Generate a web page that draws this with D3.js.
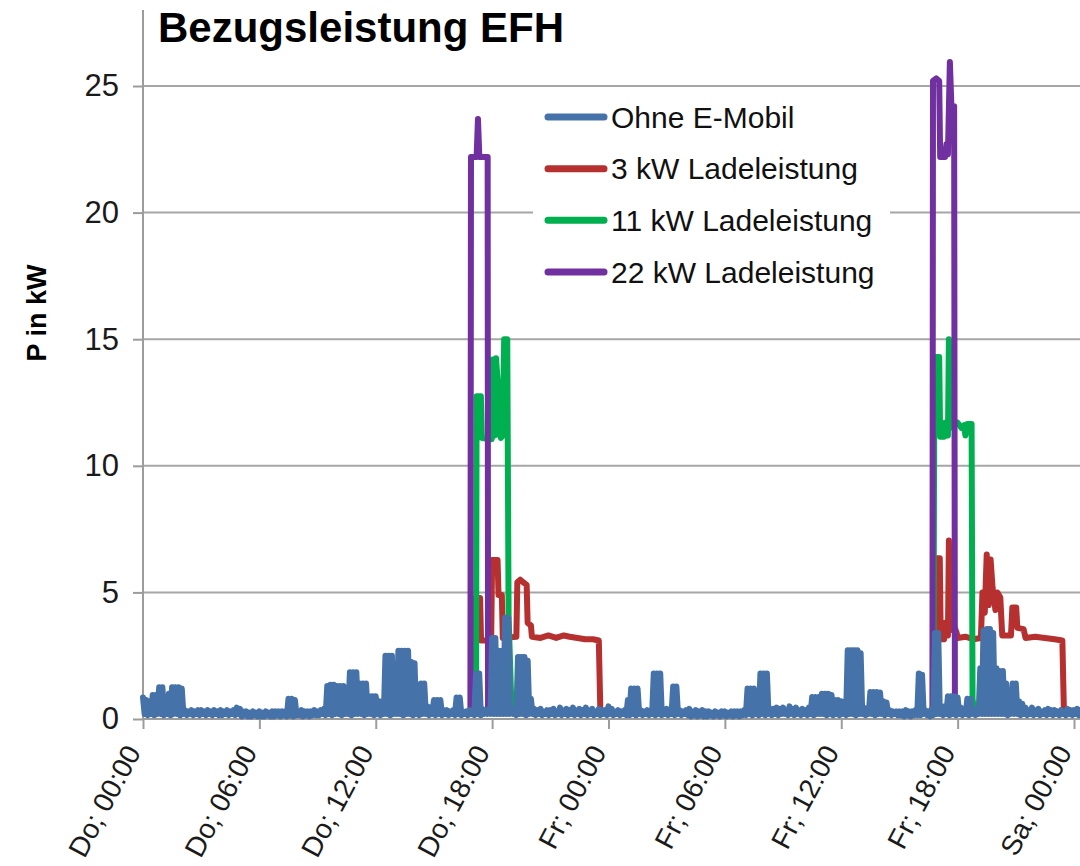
<!DOCTYPE html>
<html><head><meta charset="utf-8">
<script src="https://cdn.jsdelivr.net/npm/d3@7/dist/d3.min.js"></script>
<style>
body{margin:0;background:#fff}
svg{display:block}
text{font-family:"Liberation Sans",Arial,sans-serif}
</style>
</head><body>
<svg id="chart" width="1080" height="866"></svg>
<script>
// ---------- data ----------
const chartTitle = "Bezugsleistung EFH";
const yAxisTitle = "P in kW";
const seriesNames = ["Ohne E-Mobil", "3 kW Ladeleistung", "11 kW Ladeleistung", "22 kW Ladeleistung"];
const seriesColors = ["#4672AA", "#B5302E", "#00B050", "#7030A0"];
const xTickHours = [0, 6, 12, 18, 24, 30, 36, 42, 48];
const xTickLabels = ["Do; 00:00", "Do; 06:00", "Do; 12:00", "Do; 18:00", "Fr; 00:00", "Fr; 06:00", "Fr; 12:00", "Fr; 18:00", "Sa; 00:00"];
const yTicks = [0, 5, 10, 15, 20, 25];

// Ohne E-Mobil: peak and minimum (kW) within each 10-minute interval from Do 00:00 (6 per hour)
const sampleMinutes = 10;
const ohneEMobilMax = [
  0.85,0.75,0.7,0.95,0.95,1.25,   // 0
  1.25,0.35,1.0,1.25,1.25,1.25,   // 1
  1.2,0.35,0.3,0.35,0.3,0.35,     // 2
  0.35,0.3,0.35,0.3,0.35,0.3,     // 3
  0.35,0.3,0.35,0.3,0.35,0.45,    // 4
  0.4,0.3,0.3,0.25,0.3,0.25,      // 5
  0.3,0.25,0.3,0.25,0.3,0.3,      // 6
  0.3,0.3,0.3,0.8,0.8,0.75,       // 7
  0.3,0.35,0.3,0.3,0.3,0.35,      // 8
  0.3,0.35,0.4,1.3,1.35,1.35,     // 9
  1.3,1.3,1.3,0.6,1.85,1.85,      // 10
  1.85,1.4,1.4,1.4,0.9,0.9,       // 11
  0.9,0.7,0.7,2.5,2.5,2.5,        // 12
  1.9,2.7,2.7,2.7,2.7,2.25,       // 13
  2.2,0.8,1.4,1.4,0.5,0.45,       // 14
  0.75,0.75,0.75,0.35,0.35,0.3,   // 15
  0.35,0.85,0.85,0.3,0.3,0.35,    // 16
  0.35,1.8,1.8,0.4,0.35,0.4,      // 17
  3.2,3.2,2.7,2.7,4.0,4.0,        // 18
  0.4,0.4,2.45,2.45,2.45,2.3,     // 19
  0.8,0.4,0.35,0.4,0.3,0.35,      // 20
  0.35,0.4,0.3,0.45,0.35,0.4,     // 21
  0.35,0.45,0.35,0.4,0.35,0.45,   // 22
  0.35,0.4,0.3,0.4,0.35,0.35,     // 23
  0.5,0.4,0.3,0.35,0.3,0.35,      // 24
  0.75,1.2,1.2,1.2,0.35,0.3,      // 25
  0.35,0.3,1.8,1.8,1.8,0.35,      // 26
  0.4,0.35,1.28,1.28,0.35,0.3,    // 27
  0.35,0.4,0.3,0.35,0.3,0.35,     // 28
  0.3,0.3,0.25,0.3,0.25,0.3,      // 29
  0.3,0.25,0.3,0.3,0.3,0.3,       // 30
  0.35,1.2,1.2,1.2,1.1,1.8,       // 31
  1.8,1.8,0.4,0.4,0.45,0.4,       // 32
  0.45,0.35,0.5,0.4,0.45,0.35,    // 33
  0.4,0.35,0.45,0.87,0.87,0.87,   // 34
  1.0,1.0,1.0,0.95,0.75,0.75,     // 35
  0.7,0.35,2.72,2.72,2.72,2.72,   // 36
  2.6,0.45,0.4,1.07,1.07,1.07,    // 37
  1.05,0.7,0.65,0.35,0.3,0.3,     // 38
  0.3,0.3,0.35,0.3,0.3,0.35,      // 39
  1.8,1.75,0.35,0.3,0.4,3.4,      // 40
  3.4,0.45,0.5,0.9,0.9,0.9,       // 41
  0.85,0.45,0.35,0.8,0.8,0.35,    // 42
  0.4,2.0,3.5,3.55,3.55,3.4,      // 43
  2.0,1.9,1.9,1.4,0.5,1.4,        // 44
  1.4,0.7,0.6,0.45,0.35,0.45,     // 45
  0.35,0.4,0.3,0.35,0.4,0.35,     // 46
  0.35,0.3,0.35,0.3,0.4,0.35,     // 47
  0.35,0.4,0.35                   // 48
];
const ohneEMobilMin = [
  0.2,0.15,0.2,0.15,0.2,0.2,      // 0
  0.15,0.2,0.15,0.2,0.2,0.15,     // 1
  0.2,0.15,0.2,0.15,0.2,0.15,     // 2
  0.2,0.15,0.2,0.15,0.2,0.15,     // 3
  0.15,0.2,0.15,0.2,0.15,0.2,     // 4
  0.1,0.15,0.1,0.1,0.15,0.1,      // 5
  0.1,0.1,0.15,0.1,0.1,0.15,      // 6
  0.1,0.15,0.1,0.15,0.1,0.15,     // 7
  0.15,0.1,0.15,0.1,0.15,0.15,    // 8
  0.15,0.2,0.15,0.2,0.15,0.2,     // 9
  0.2,0.15,0.2,0.2,0.15,0.2,      // 10
  0.2,0.2,0.15,0.2,0.2,0.15,      // 11
  0.2,0.15,0.2,0.2,0.15,0.2,      // 12
  0.2,0.2,0.15,0.2,0.2,0.15,      // 13
  0.2,0.15,0.2,0.2,0.15,0.2,      // 14
  0.15,0.2,0.15,0.2,0.15,0.2,     // 15
  0.15,0.2,0.15,0.2,0.15,0.2,     // 16
  0.15,0.2,0.15,0.2,0.2,0.2,      // 17
  0.2,0.2,0.2,0.2,0.2,0.2,        // 18
  0.2,0.15,0.2,0.2,0.15,0.2,      // 19
  0.2,0.15,0.2,0.15,0.2,0.15,     // 20
  0.2,0.15,0.2,0.15,0.2,0.15,     // 21
  0.2,0.15,0.2,0.15,0.2,0.15,     // 22
  0.2,0.15,0.2,0.15,0.2,0.15,     // 23
  0.2,0.15,0.2,0.15,0.2,0.15,     // 24
  0.15,0.2,0.15,0.2,0.15,0.2,     // 25
  0.15,0.2,0.15,0.2,0.15,0.2,     // 26
  0.15,0.2,0.15,0.2,0.15,0.2,     // 27
  0.15,0.1,0.15,0.1,0.15,0.1,     // 28
  0.1,0.15,0.1,0.15,0.1,0.15,     // 29
  0.1,0.15,0.1,0.15,0.1,0.15,     // 30
  0.15,0.2,0.15,0.2,0.15,0.2,     // 31
  0.15,0.2,0.15,0.2,0.15,0.2,     // 32
  0.2,0.15,0.2,0.15,0.2,0.15,     // 33
  0.2,0.15,0.2,0.15,0.2,0.2,      // 34
  0.2,0.15,0.2,0.15,0.2,0.15,     // 35
  0.2,0.15,0.2,0.2,0.15,0.2,      // 36
  0.2,0.15,0.2,0.2,0.15,0.2,      // 37
  0.2,0.15,0.2,0.15,0.2,0.15,     // 38
  0.15,0.1,0.15,0.1,0.15,0.15,    // 39
  0.15,0.2,0.15,0.1,0.15,0.2,     // 40
  0.2,0.15,0.2,0.15,0.2,0.15,     // 41
  0.2,0.15,0.2,0.15,0.2,0.15,     // 42
  0.2,0.2,0.2,0.2,0.2,0.2,        // 43
  0.2,0.2,0.2,0.15,0.2,0.2,       // 44
  0.2,0.15,0.2,0.15,0.2,0.15,     // 45
  0.2,0.15,0.2,0.15,0.2,0.15,     // 46
  0.2,0.15,0.2,0.15,0.2,0.15,     // 47
  0.2,0.15,0.2                    // 48
];

// charging series: [hour, kW] only where they differ from "Ohne E-Mobil"
const ladung3kW = [
  [17.07,0.3],[17.12,4.78],[17.38,4.78],[17.43,3.1],[17.95,3.1],[18.0,6.28],[18.28,6.28],[18.33,4.9],
  [18.5,4.9],[18.55,3.2],[19.25,3.25],[19.3,5.4],[19.45,5.5],[19.6,5.4],[19.78,5.3],[19.83,3.8],
  [20.0,3.7],[20.05,3.25],[20.5,3.2],[20.9,3.3],[21.3,3.2],[21.7,3.3],[22.0,3.25],[22.4,3.2],
  [22.8,3.15],[23.2,3.15],[23.5,3.1],[23.58,0.3],
  null,
  [40.8,0.4],[40.85,6.35],[41.08,6.35],[41.13,3.15],[41.3,3.15],[41.35,3.8],[41.45,3.8],[41.5,3.3],
  [41.55,7.05],[41.62,3.5],[41.8,3.7],[41.95,3.4],[42.0,3.2],[42.4,3.25],[42.8,3.15],[43.2,3.2],
  [43.28,5.0],[43.4,4.2],[43.5,6.5],[43.6,4.5],[43.7,6.3],[43.8,5.2],[43.95,4.3],[44.05,5.0],
  [44.2,4.8],[44.3,3.3],[44.75,3.3],[44.82,4.4],[45.02,4.4],[45.08,3.6],[45.4,3.55],[45.5,3.2],
  [46.0,3.25],[46.5,3.2],[47.0,3.15],[47.4,3.1],[47.48,0.3]
];
const ladung11kW = [
  [17.17,0.3],[17.2,12.75],[17.42,12.75],[17.47,11.1],[17.98,11.05],[18.03,14.2],[18.12,11.2],
  [18.2,14.25],[18.28,13.4],[18.35,11.3],[18.45,11.1],[18.55,11.2],[18.62,15.0],[18.78,15.0],
  [18.85,4.0],[19.0,0.4],
  null,
  [40.75,0.4],[40.8,14.3],[41.05,14.3],[41.1,11.15],[41.3,11.15],[41.35,11.7],[41.45,11.7],
  [41.5,11.2],[41.55,15.0],[41.62,11.5],[41.8,11.6],[42.0,11.7],[42.2,11.5],[42.33,11.6],
  [42.4,11.2],[42.5,11.65],[42.72,11.65],[42.77,0.8],[42.85,0.3]
];
const ladung22kW = [
  [16.88,0.3],[16.91,22.2],[17.2,22.2],[17.27,23.7],[17.34,22.2],[17.77,22.2],[17.79,0.4],
  null,
  [40.7,0.4],[40.73,25.2],[40.9,25.3],[41.05,25.2],[41.1,22.2],[41.35,22.2],[41.42,22.7],
  [41.5,22.3],[41.6,25.95],[41.68,24.2],[41.82,24.2],[41.86,0.5]
];

// ---------- chart ----------
const svg = d3.select("#chart");
svg.append("rect").attr("width",1080).attr("height",866).attr("fill","#fff");

const x = d3.scaleLinear().domain([0, 48]).range([143, 1074]);
const y = d3.scaleLinear().domain([0, 25]).range([719, 86]);
const yTop = y(28);

const gridColor = "#A6A6A6";
const axisColor = "#9C9C9C";

// gridlines
svg.append("g").selectAll("line").data(yTicks.filter(d => d > 0)).join("line")
  .attr("x1", x(0)).attr("x2", 1080)
  .attr("y1", d => y(d)).attr("y2", d => y(d))
  .attr("stroke", gridColor).attr("stroke-width", 2);

// y axis
const yAxis = d3.axisLeft(y).tickValues(yTicks).tickSize(10).tickPadding(14);
const gy = svg.append("g").attr("transform", `translate(${x(0)},0)`).call(yAxis);
gy.select(".domain").remove();
gy.selectAll(".tick line").attr("stroke", axisColor).attr("stroke-width", 2);
gy.selectAll(".tick text").attr("font-size", 31).attr("fill", "#1a1a1a")
  .attr("font-family", '"Liberation Sans",Arial,sans-serif');
svg.append("line").attr("x1", x(0)).attr("x2", x(0)).attr("y1", yTop).attr("y2", y(0) + 1)
  .attr("stroke", axisColor).attr("stroke-width", 2);

// x axis
const xAxis = d3.axisBottom(x).tickValues(xTickHours).tickSize(10).tickFormat((d, i) => xTickLabels[i]);
const gx = svg.append("g").attr("transform", `translate(0,${y(0)})`).call(xAxis);
gx.select(".domain").remove();
gx.selectAll(".tick line").attr("stroke", axisColor).attr("stroke-width", 2);
gx.selectAll(".tick text")
  .attr("font-size", 28).attr("fill", "#1a1a1a")
  .attr("font-family", '"Liberation Sans",Arial,sans-serif')
  .attr("text-anchor", "end").attr("dy", null).attr("y", 0)
  .attr("transform", "translate(-2,33) rotate(-62)");
svg.append("line").attr("x1", x(0)).attr("x2", 1080).attr("y1", y(0)).attr("y2", y(0))
  .attr("stroke", axisColor).attr("stroke-width", 2);

// series: Ohne E-Mobil drawn through the peak and the minimum of every interval
const bluePoints = [];
ohneEMobilMax.forEach((v, i) => {
  bluePoints.push([i * sampleMinutes / 60, v]);
  bluePoints.push([(i + 0.5) * sampleMinutes / 60, ohneEMobilMin[i]]);
});
const line = d3.line().defined(d => d !== null).x(d => x(d[0])).y(d => y(d[1]));
const drawOrder = [
  {data: ladung3kW, color: seriesColors[1]},
  {data: ladung11kW, color: seriesColors[2]},
  {data: ladung22kW, color: seriesColors[3]},
  {data: bluePoints, color: seriesColors[0]}
];
const plot = svg.append("g");
drawOrder.forEach(s => {
  plot.append("path").attr("d", line(s.data)).attr("fill", "none")
    .attr("stroke", s.color).attr("stroke-width", 6)
    .attr("stroke-linejoin", "round").attr("stroke-linecap", "round");
});

// legend
const lg = svg.append("g");
lg.append("rect").attr("x", 533).attr("y", 93).attr("width", 357).attr("height", 206).attr("fill", "#fff");
const legendY = d3.scalePoint().domain(seriesNames).range([117, 272]);
seriesNames.forEach((n, i) => {
  const yy = legendY(n);
  lg.append("line").attr("x1", 548).attr("x2", 604).attr("y1", yy).attr("y2", yy)
    .attr("stroke", seriesColors[i]).attr("stroke-width", 7).attr("stroke-linecap", "round");
  lg.append("text").attr("x", 611).attr("y", yy).attr("dy", "0.35em")
    .attr("font-size", 30).attr("fill", "#111").text(n);
});

// titles
svg.append("text").attr("x", 158).attr("y", 42).attr("font-size", 42).attr("font-weight", "bold")
  .attr("fill", "#000").text(chartTitle);
svg.append("text").attr("transform", "translate(46,313) rotate(-90)").attr("text-anchor", "middle")
  .attr("font-size", 27).attr("font-weight", "bold").attr("fill", "#000").text(yAxisTitle);
</script>
</body></html>
